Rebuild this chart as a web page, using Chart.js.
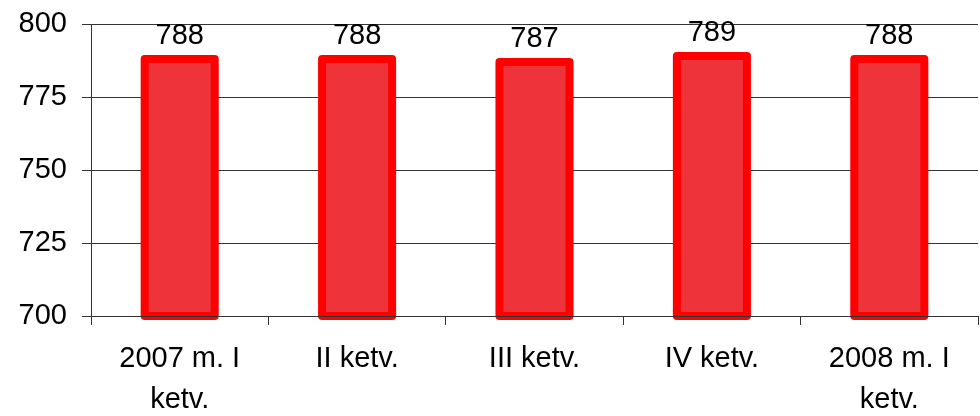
<!DOCTYPE html>
<html>
<head>
<meta charset="utf-8">
<script src="https://cdn.jsdelivr.net/npm/chart.js@4.4.1/dist/chart.umd.min.js"></script>
<style>
html,body{margin:0;padding:0;background:#fff;}
#wrap{width:980px;height:416px;position:relative;}
</style>
</head>
<body>
<div id="wrap"><canvas id="c" width="980" height="416"></canvas></div>
<script>
const categories = [["2007 m. I", "ketv."], ["II ketv."], ["III ketv."], ["IV ketv."], ["2008 m. I", "ketv."]];
const values = [788, 788, 787, 789, 788];
const yTicks = [700, 725, 750, 775, 800];

const FONT = "'Liberation Sans', Arial, sans-serif";

const barOutline = {
  id: 'barOutline',
  afterDatasetsDraw(chart) {
    const ctx = chart.ctx;
    const meta = chart.getDatasetMeta(0);
    const area = chart.chartArea;
    ctx.save();
    ctx.strokeStyle = '#FF0000';
    ctx.lineWidth = 8;
    ctx.lineJoin = 'round';
    meta.data.forEach(el => {
      const left = el.x - el.width / 2;
      const bottom = Math.min(el.base, area.bottom);
      ctx.strokeRect(left, el.y, el.width, bottom - el.y);
    });
    ctx.strokeStyle = '#333';
    ctx.lineWidth = 1;
    ctx.beginPath();
    ctx.moveTo(area.left, Math.round(area.bottom) + 0.5);
    ctx.lineTo(area.right, Math.round(area.bottom) + 0.5);
    ctx.stroke();
    ctx.fillStyle = '#000';
    ctx.font = '29px ' + FONT;
    ctx.textAlign = 'center';
    ctx.textBaseline = 'alphabetic';
    meta.data.forEach((el, i) => {
      ctx.fillText(String(values[i]), el.x, el.y - 15);
    });
    ctx.restore();
  }
};

new Chart(document.getElementById('c'), {
  type: 'bar',
  data: {
    labels: categories,
    datasets: [{
      data: values,
      backgroundColor: '#EE343A',
      borderWidth: 0,
      barPercentage: 0.395,
      categoryPercentage: 1
    }]
  },
  options: {
    responsive: false,
    animation: false,
    events: [],
    layout: { padding: { top: 24, right: 2, left: 0, bottom: 0 } },
    plugins: { legend: { display: false }, tooltip: { enabled: false } },
    scales: {
      x: {
        grid: { display: true, drawOnChartArea: false, drawTicks: true, tickLength: 9, color: '#333', offset: true },
        border: { display: true, color: '#333' },
        ticks: { color: '#000', font: { family: FONT, size: 29, lineHeight: 1.4 }, padding: 14, maxRotation: 0, autoSkip: false },
        afterFit(scale) { scale.height = 100; scale.paddingLeft = 0; scale.paddingRight = 0; }
      },
      y: {
        min: 700, max: 800,
        afterBuildTicks(scale) { scale.ticks = yTicks.map(v => ({ value: v })); },
        grid: { color: '#333', tickLength: 9, drawTicks: true },
        border: { display: true, color: '#333' },
        ticks: { color: '#000', font: { family: FONT, size: 29 }, padding: 15 },
        afterFit(scale) { scale.width = 91; scale.paddingTop = 0; scale.paddingBottom = 0; }
      }
    }
  },
  plugins: [barOutline]
});
</script>
</body>
</html>
